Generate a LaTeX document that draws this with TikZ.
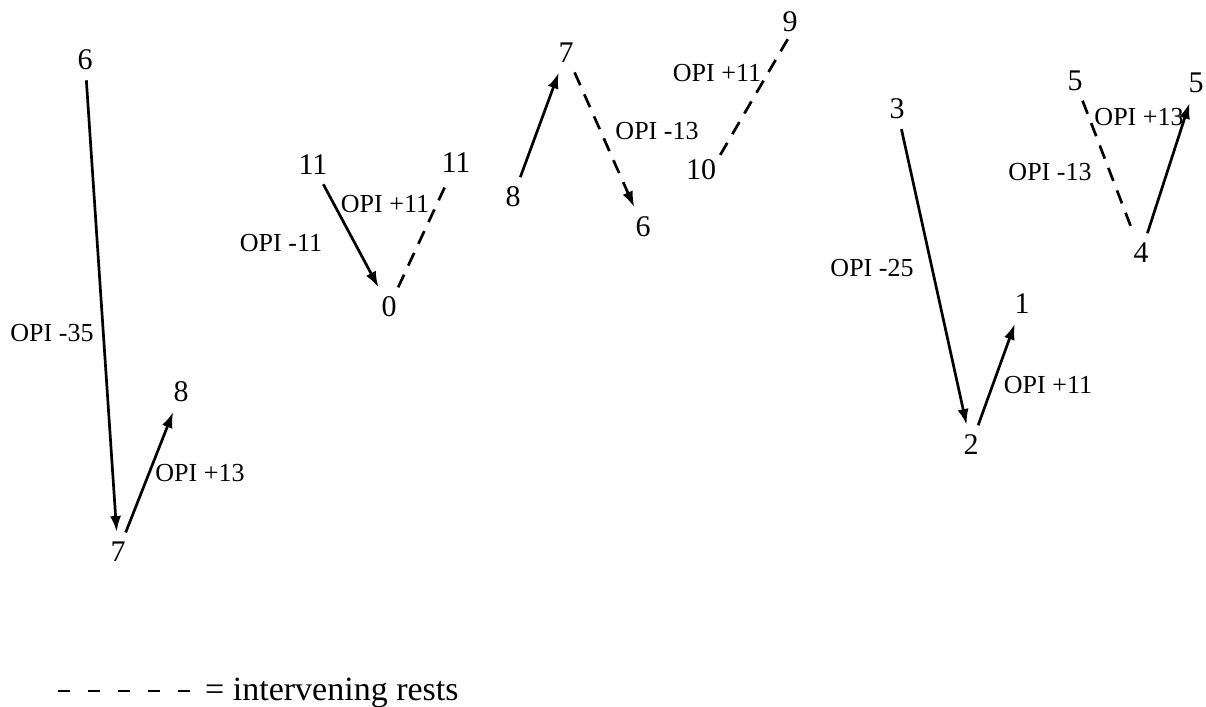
\documentclass[tikz,border=0pt]{standalone}
\usepackage{fontspec}
\setmainfont{Liberation Serif}
\usetikzlibrary{arrows.meta}
\begin{document}
\begin{tikzpicture}[x=1pt,y=-1pt,
  num/.style={font=\fontsize{30}{32}\selectfont,inner sep=3pt},
  lab/.style={font=\fontsize{26}{28}\selectfont,inner sep=0pt},
  conn/.style={line width=2.7pt,shorten <=7pt,shorten >=7pt},
  arr/.style={conn,-{Latex[length=16pt,width=11pt]}},
  rest/.style={conn,dash pattern=on 14pt off 10pt},
  restarr/.style={rest,-{Latex[length=16pt,width=11pt]}}]
\useasboundingbox (0,0) rectangle (1206,706);
\fill[white] (0,0) rectangle (1206,706);
% group 1
\node[num] (a6) at (85,60) {6};
\node[num] (a7) at (118,552) {7};
\node[num] (a8) at (181,392) {8};
\draw[arr] (a6) -- (a7);
\draw[arr] (a7) -- (a8);
\node[lab] (l1) at (52,333) {OPI -35};
\node[lab] (l2) at (200,473) {OPI +13};
% group 2
\node[num] (b11) at (313,165) {11};
\node[num] (b0) at (389,307) {0};
\node[num] (b11r) at (456,163) {11};
\draw[arr] (b11) -- (b0);
\draw[rest] (b0) -- (b11r);
\node[lab] (l3) at (281,243) {OPI -11};
\node[lab] (l4) at (385,204) {OPI +11};
% group 3
\node[num] (c8) at (513,197) {8};
\node[num] (c7) at (566,53) {7};
\node[num] (c6) at (643,227) {6};
\node[num] (c10) at (701,170) {10};
\node[num] (c9) at (790,22) {9};
\draw[arr] (c8) -- (c7);
\draw[restarr] (c7) -- (c6);
\draw[rest,shorten <=2pt,shorten >=2pt] (c10.north east) -- (c9.south);
\node[lab] (l5) at (657,131) {OPI -13};
\node[lab] (l6) at (717,73) {OPI +11};
% group 4
\node[num] (d3) at (897,109) {3};
\node[num] (d2) at (971,445) {2};
\node[num] (d1) at (1022,304) {1};
\draw[arr] (d3) -- (d2);
\draw[arr] (d2) -- (d1);
\node[lab] (l7) at (872,268) {OPI -25};
\node[lab] (l8) at (1048,385) {OPI +11};
% group 5
\node[num] (e5) at (1075,81) {5};
\node[num] (e4) at (1141,253) {4};
\node[num] (e5r) at (1196,83) {5};
\draw[rest] (e5) -- (e4);
\draw[arr] (e4) -- (e5r);
\node[lab] (l9) at (1139,117) {OPI +13};
\node[lab] (l10) at (1050,172) {OPI -13};
% legend
\coordinate (ls) at (58,691);
\coordinate (le) at (190,691);
\draw[line width=2.6pt,dash pattern=on 12pt off 18pt] (ls) -- (le);
\node[font=\fontsize{34}{36}\selectfont,inner sep=0pt,anchor=base west] (leg) at (205,700) {= intervening rests};
\end{tikzpicture}
\end{document}
